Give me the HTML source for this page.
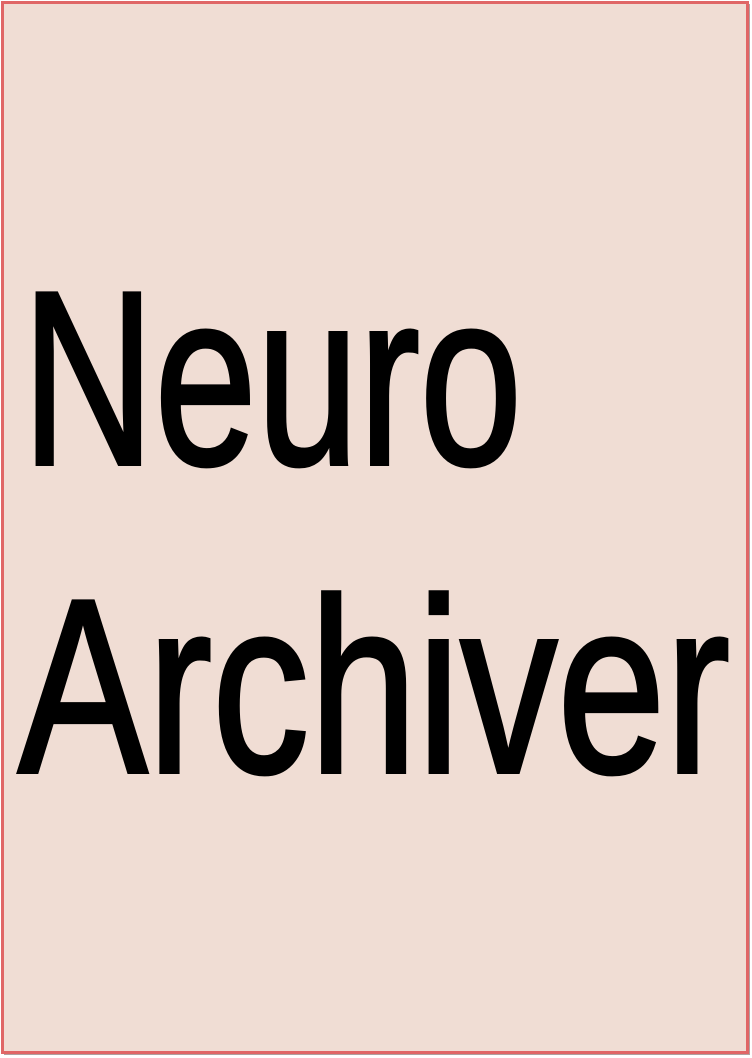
<!DOCTYPE html>
<html><head><style>html,body{margin:0;padding:0;background:#fff;}svg{display:block}</style></head>
<body>
<svg width="752" height="1058" viewBox="0 0 752 1058" xmlns="http://www.w3.org/2000/svg">
<rect x="4" y="4" width="746" height="1051" fill="#b0a0a0"/>
<rect x="2.5" y="2.5" width="745" height="1050" fill="#f0ddd4" stroke="#e06666" stroke-width="3"/>
<text x="22" y="464" font-family="Liberation Sans, sans-serif" font-size="248" textLength="500" lengthAdjust="spacingAndGlyphs" fill="#000" stroke="#000" stroke-width="4">Neuro</text>
<text x="18" y="772" font-family="Liberation Sans, sans-serif" font-size="248" textLength="712" lengthAdjust="spacingAndGlyphs" fill="#000" stroke="#000" stroke-width="4">Archiver</text>
</svg>
</body></html>
